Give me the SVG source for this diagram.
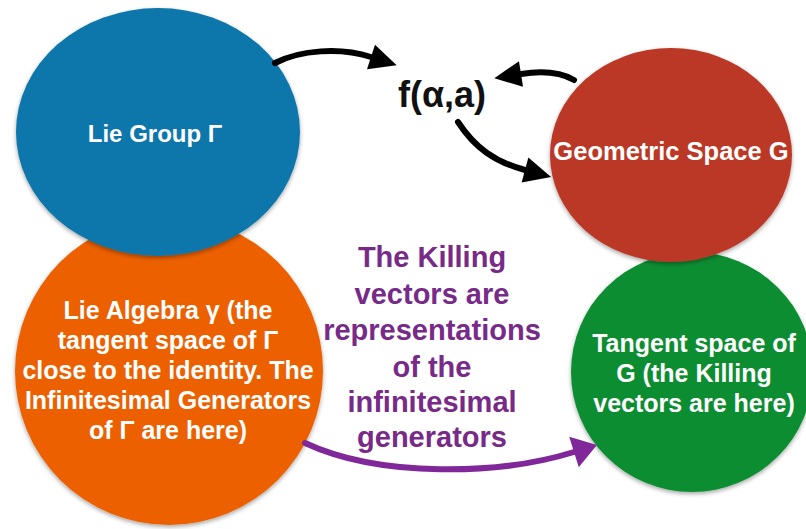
<svg xmlns="http://www.w3.org/2000/svg" width="806" height="529" viewBox="0 0 806 529">
  <style>
    .lbl { font-family: "Liberation Sans", Arial, Helvetica, sans-serif; font-weight: bold; fill: #ffffff; text-anchor: middle; }
    .note { font-family: "Liberation Sans", Arial, Helvetica, sans-serif; font-weight: bold; fill: #782a88; text-anchor: middle; font-size: 29px; }
    .fn { font-family: "Liberation Sans", Arial, Helvetica, sans-serif; font-weight: bold; fill: #111111; text-anchor: middle; font-size: 36px; }
    .blk { fill: none; stroke: #000000; stroke-width: 6; stroke-linecap: round; }
    .pur { fill: none; stroke: #80289a; stroke-width: 6; stroke-linecap: round; }
    .disc { filter: url(#shadow); }
  </style>
  <defs>
    <filter id="shadow" x="-10%" y="-10%" width="120%" height="120%">
      <feDropShadow dx="0" dy="2" stdDeviation="2" flood-color="#000000" flood-opacity="0.35"/>
    </filter>
    <marker id="headBlack" markerUnits="userSpaceOnUse" markerWidth="30" markerHeight="30" refX="0" refY="13" orient="auto" viewBox="0 0 30 26" overflow="visible">
      <path d="M0,0 L27,13 L0,26 Z" fill="#000000"/>
    </marker>
    <marker id="headPurple" markerUnits="userSpaceOnUse" markerWidth="30" markerHeight="34" refX="0" refY="16" orient="auto" viewBox="0 0 30 32" overflow="visible">
      <path d="M0,0 L24,16 L0,32 Z" fill="#80289a"/>
    </marker>
  </defs>

  <rect x="0" y="0" width="806" height="529" fill="#ffffff"/>

  <!-- Lie algebra (drawn beneath the Lie group) -->
  <g id="lie-algebra">
    <circle class="disc" cx="169" cy="371" r="154" fill="#ec6103"/>
    <text class="lbl" font-size="25" x="168" y="319">Lie Algebra γ (the</text>
    <text class="lbl" font-size="25" x="168" y="349">tangent space of Γ</text>
    <text class="lbl" font-size="25" x="168" y="379">close to the identity. The</text>
    <text class="lbl" font-size="25" x="168" y="409">Infinitesimal Generators</text>
    <text class="lbl" font-size="25" x="168" y="439">of Γ are here)</text>
  </g>

  <!-- Lie group -->
  <g id="lie-group">
    <ellipse class="disc" cx="158" cy="132" rx="142" ry="124" fill="#0f76aa"/>
    <text class="lbl" font-size="24" x="155" y="142">Lie Group Γ</text>
  </g>

  <!-- Tangent space of G (beneath the geometric space) -->
  <g id="tangent-space">
    <ellipse class="disc" cx="692" cy="372" rx="121" ry="120" fill="#0a8d31"/>
    <text class="lbl" font-size="25" x="694" y="352">Tangent space of</text>
    <text class="lbl" font-size="25" x="694" y="382">G (the Killing</text>
    <text class="lbl" font-size="25" x="694" y="412">vectors are here)</text>
  </g>

  <!-- Geometric space -->
  <g id="geometric-space">
    <ellipse class="disc" cx="671" cy="155" rx="121" ry="107" fill="#bc3826"/>
    <text class="lbl" font-size="25.5" x="671" y="160">Geometric Space G</text>
  </g>

  <!-- Action map -->
  <g id="action">
    <text class="fn" x="442" y="107">f(α,a)</text>
  </g>

  <!-- Caption between the lower discs -->
  <g id="caption">
    <text class="note" x="432" y="267">The Killing</text>
    <text class="note" x="432" y="304">vectors are</text>
    <text class="note" x="432" y="340">representations</text>
    <text class="note" x="432" y="377">of the</text>
    <text class="note" x="432" y="412">infinitesimal</text>
    <text class="note" x="432" y="447">generators</text>
  </g>

  <!-- Connectors -->
  <g id="connectors">
    <path class="blk" d="M275,63 C300,50 340,47 371,57" marker-end="url(#headBlack)"/>
    <path class="blk" d="M574,80 C560,72 540,71 521,74" marker-end="url(#headBlack)"/>
    <path class="blk" d="M458,122 C475,148 495,162 525,170" marker-end="url(#headBlack)"/>
    <path class="pur" d="M305,443 C380,478 500,475 574,452" marker-end="url(#headPurple)"/>
  </g>
</svg>
